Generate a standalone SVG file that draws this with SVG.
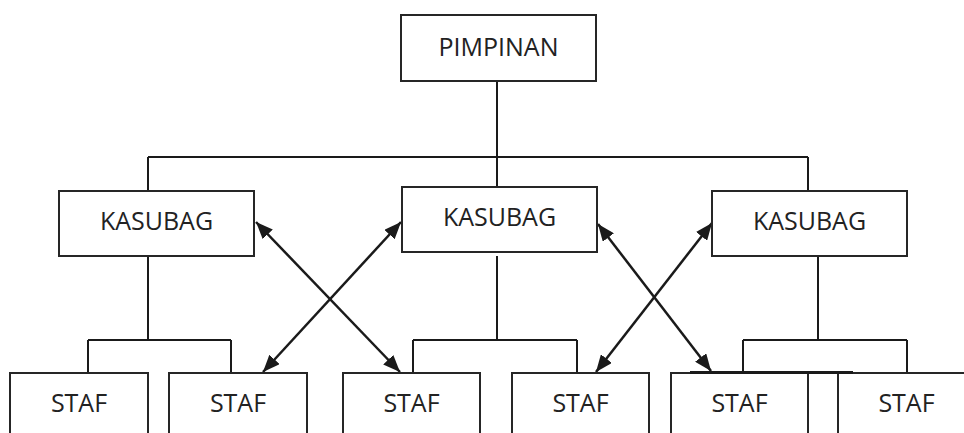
<svg xmlns="http://www.w3.org/2000/svg" width="964" height="433" viewBox="0 0 964 433">
<style>
.box{fill:#fff;stroke:#262626;stroke-width:2}
.lbl{font-family:"Open Sans","Noto Sans",sans-serif;font-size:25px;fill:#222;text-anchor:middle}
.conn{fill:none;stroke:#1a1a1a;stroke-width:2}
.arr{fill:none;stroke:#1a1a1a;stroke-width:2.5;marker-start:url(#ah);marker-end:url(#ah)}
</style>
<defs>
<marker id="ah" markerUnits="userSpaceOnUse" markerWidth="18" markerHeight="14" refX="17" refY="7" orient="auto-start-reverse">
<path d="M0,0 L17,7 L0,14 z" fill="#1a1a1a"/>
</marker>
</defs>
<rect width="964" height="433" fill="#fff"/>
<g id="connectors">
<path class="conn" d="M497,81 V157 M148,157 H808 M148,157 V191 M497,157 V187 M808,157 V191"/>
<path class="conn" d="M148,256 V340 M88,340 H231 M88,340 V373 M231,340 V373"/>
<path class="conn" d="M497,256 V340 M413,340 H577 M413,340 V373 M577,340 V373"/>
<path class="conn" d="M818,256 V340 M743,340 H907 M743,340 V373 M907,340 V373"/>
<line class="arr" x1="256" y1="222" x2="400" y2="372"/>
<line class="arr" x1="263" y1="372" x2="401" y2="222"/>
<line class="arr" x1="598" y1="224" x2="711" y2="371"/>
<line class="arr" x1="596" y1="372" x2="712" y2="223"/>
</g>
<g id="pimpinan"><rect class="box" x="401" y="15" width="195" height="66"/><text class="lbl" x="498.5" y="56">PIMPINAN</text></g>
<g id="kasubag1"><rect class="box" x="59" y="191" width="195" height="65"/><text class="lbl" x="156.5" y="230">KASUBAG</text></g>
<g id="kasubag2"><rect class="box" x="402" y="187" width="195" height="65"/><text class="lbl" x="499.5" y="226">KASUBAG</text></g>
<g id="kasubag3"><rect class="box" x="712" y="191" width="195" height="65"/><text class="lbl" x="809.5" y="230">KASUBAG</text></g>
<g id="staf1"><rect class="box" x="10" y="373" width="138" height="70"/><text class="lbl" x="79" y="412">STAF</text></g>
<g id="staf2"><rect class="box" x="169" y="373" width="138" height="70"/><text class="lbl" x="238" y="412">STAF</text></g>
<g id="staf3"><rect class="box" x="343" y="373" width="137" height="70"/><text class="lbl" x="411.5" y="412">STAF</text></g>
<g id="staf4"><rect class="box" x="512" y="373" width="137" height="70"/><text class="lbl" x="580.5" y="412">STAF</text></g>
<g id="staf5"><rect class="box" x="671" y="373" width="137" height="70"/><text class="lbl" x="739.5" y="412">STAF</text></g>
<g id="staf6"><rect class="box" x="838" y="373" width="137" height="70"/><text class="lbl" x="906.5" y="412">STAF</text></g>
<line x1="690" y1="372.5" x2="853" y2="372.5" stroke="#1a1a1a" stroke-width="3"/>
</svg>
